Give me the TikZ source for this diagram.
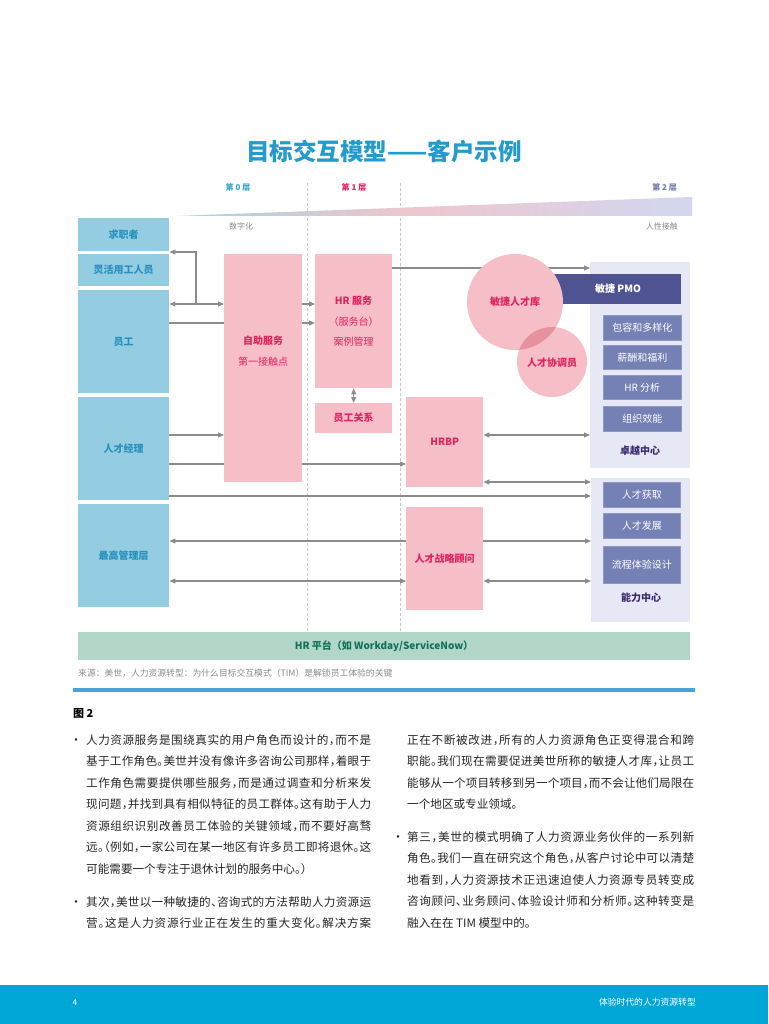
\documentclass[tikz,border=0pt]{standalone}
\usepackage{fontspec}
\setmainfont{Noto Sans CJK SC}
\newfontfamily\bodyfont[RawFeature=+halt]{Noto Sans CJK SC}
\usetikzlibrary{arrows.meta}
\definecolor{titleblue}{HTML}{239BCB}
\definecolor{lzero}{HTML}{3AA5C8}
\definecolor{lone}{HTML}{E0245E}
\definecolor{ltwo}{HTML}{7079B3}
\definecolor{smallgray}{HTML}{8C8C8C}
\definecolor{dashgray}{HTML}{C8C8C8}
\definecolor{lbfill}{HTML}{94CDE1}
\definecolor{lbtext}{HTML}{2990BE}
\definecolor{pkfill}{HTML}{F6BEC6}
\definecolor{pktext}{HTML}{E0245E}
\definecolor{overlap}{HTML}{E6919E}
\definecolor{panel}{HTML}{E6E8F5}
\definecolor{pmofill}{HTML}{505392}
\definecolor{subfill}{HTML}{7580B5}
\definecolor{subedge}{HTML}{8E97C6}
\definecolor{purpletext}{HTML}{3C2A6E}
\definecolor{platfill}{HTML}{B2D6C8}
\definecolor{plattext}{HTML}{12705C}
\definecolor{arrgray}{HTML}{8C8C8C}
\definecolor{rule}{HTML}{4BA3DB}
\definecolor{bodytext}{HTML}{262626}
\definecolor{footblue}{HTML}{00A6D6}
\definecolor{wedgeL}{HTML}{A3D4DF}
\definecolor{wedgeM}{HTML}{EEC6CE}
\definecolor{wedgeR}{HTML}{D2D7EF}
\pgfdeclarehorizontalshading{wedgesh}{100bp}{color(0bp)=(wedgeL); color(25bp)=(wedgeL); color(47bp)=(wedgeM); color(75bp)=(wedgeR); color(100bp)=(wedgeR)}
\pgfdeclarelayer{bg}
\pgfsetlayers{bg,main}
\makeatletter
\let\sp@end\relax
\def\sp@first#1{#1\sp@next}
\def\sp@next#1{\ifx#1\sp@end\else\hskip 0pt plus 3pt\relax #1\expandafter\sp@next\fi}
\newcommand\jlL[1]{\makebox[285pt][s]{\sp@first#1\sp@end}}
\newcommand\jlR[1]{\makebox[287pt][s]{\sp@first#1\sp@end}}
\makeatother
\begin{document}
\begin{tikzpicture}[x=1pt,y=-1pt,
  lbox/.style={fill=lbfill, draw=none, inner sep=0, anchor=north west, font=\bfseries\fontsize{10}{12}\selectfont, text=lbtext},
  pbox/.style={fill=pkfill, draw=none, inner sep=0, anchor=north west, font=\bfseries\fontsize{10}{12}\selectfont, text=pktext},
  ptext/.style={inner sep=0, font=\bfseries\fontsize{10}{12}\selectfont, text=pktext},
  psub/.style={inner sep=0, font=\fontsize{10}{12}\selectfont, text=pktext},
  pcirc/.style={circle, fill=pkfill, draw=none, inner sep=0},
  panelbox/.style={fill=panel, draw=none, inner sep=0, anchor=north west},
  subbox/.style={fill=subfill, draw=subedge, line width=0.6pt, inner sep=0, anchor=north west, font=\fontsize{10}{12}\selectfont, text=white},
  ptitle/.style={inner sep=0, font=\bfseries\fontsize{10}{12}\selectfont, text=purpletext},
  layerlbl/.style={inner sep=0, font=\bfseries\fontsize{8}{10}\selectfont},
  graytxt/.style={inner sep=0, font=\fontsize{8}{10}\selectfont, text=smallgray},
  dashline/.style={draw=dashgray, line width=0.8pt, dash pattern=on 3pt off 2pt},
  arr/.style={draw=arrgray, line width=1.1pt, -{Triangle[length=6pt,width=5pt]}},
  darr/.style={draw=arrgray, line width=1.1pt, {Triangle[length=6pt,width=5pt]}-{Triangle[length=6pt,width=5pt]}},
  bodyline/.style={inner sep=0, anchor=west, font=\bodyfont\fontsize{11.6}{13}\selectfont, text=bodytext},
  bullet/.style={inner sep=0, font=\fontsize{12}{12}\selectfont, text=bodytext}
]
\useasboundingbox (0,0) rectangle (768,1024);

% background: page and dashed lines
\begin{pgfonlayer}{bg}
\fill[white] (0,0) rectangle (768,1024);
\draw[dashline] (307,183) -- (307,632);
\draw[dashline] (400,183) -- (400,632);
\end{pgfonlayer}

% title
\node[inner sep=0, font=\bfseries\fontsize{23.5}{26}\selectfont, text=titleblue] (title) at (384,152) {目标交互模型——客户示例};

% layer labels
\node[layerlbl, text=lzero] (l0) at (238,187) {第 0 层};
\node[layerlbl, text=lone] (l1) at (354,187) {第 1 层};
\node[layerlbl, text=ltwo, anchor=east] (l2) at (677,187) {第 2 层};

% wedge
\shade[shading=wedgesh] (176,216) -- (692,197) -- (692,216) -- cycle;
\node[graytxt] (dig) at (241,226) {数字化};
\node[graytxt, anchor=east] (hum) at (678,226) {人性接触};

% left boxes
\node[lbox, minimum width=91pt, minimum height=33pt] (qz) at (78,218) {求职者};
\node[lbox, minimum width=91pt, minimum height=32pt] (lh) at (78,254) {灵活用工人员};
\node[lbox, minimum width=91pt, minimum height=103pt] (yg) at (78,290) {员工};
\node[lbox, minimum width=91pt, minimum height=103pt] (tm) at (78,397) {人才经理};
\node[lbox, minimum width=91pt, minimum height=103pt] (sm) at (78,504) {最高管理层};

% pink boxes
\node[pbox, minimum width=78pt, minimum height=228pt] (zz) at (224,254) {};
\node[ptext] (zzt) at (263,341) {自助服务};
\node[psub] (zzs) at (263,362) {第一接触点};
\node[pbox, minimum width=77pt, minimum height=134pt] (hrs) at (315,254) {};
\node[ptext] (hrs1) at (353.5,301) {HR 服务};
\node[psub] (hrs2) at (353.5,322) {（服务台）};
\node[psub] (hrs3) at (353.5,342) {案例管理};
\node[pbox, minimum width=77pt, minimum height=30pt] (er) at (315,403) {员工关系};
\node[pbox, minimum width=77pt, minimum height=90pt] (hrbp) at (406,397) {HRBP};
\node[pbox, minimum width=77pt, minimum height=103pt] (tsa) at (406,507) {人才战略顾问};

% right panels
\node[panelbox, minimum width=100pt, minimum height=206pt] (coe) at (590,262) {};
\node[fill=pmofill, inner sep=0, anchor=north west, minimum width=128pt, minimum height=30pt] (pmo) at (553,274) {};
\node[inner sep=0, font=\bfseries\fontsize{10}{12}\selectfont, text=white] (pmot) at (618,289) {敏捷 PMO};
\node[subbox, minimum width=78pt, minimum height=25pt] (s1) at (603,315) {包容和多样化};
\node[subbox, minimum width=78pt, minimum height=24pt] (s2) at (603,345) {薪酬和福利};
\node[subbox, minimum width=78pt, minimum height=24pt] (s3) at (603,375) {HR 分析};
\node[subbox, minimum width=78pt, minimum height=25pt] (s4) at (603,406) {组织效能};
\node[ptitle] (coet) at (640,451) {卓越中心};

\node[panelbox, minimum width=99pt, minimum height=144pt] (coc) at (591,478) {};
\node[subbox, minimum width=77pt, minimum height=25pt] (c1) at (603,482) {人才获取};
\node[subbox, minimum width=77pt, minimum height=25pt] (c2) at (603,513) {人才发展};
\node[subbox, minimum width=77pt, minimum height=37pt] (c3) at (603,546) {流程体验设计};
\node[ptitle] (coct) at (641,598) {能力中心};

% circles
\node[pcirc, minimum size=96pt] (tp) at (515,302) {};
\node[pcirc, minimum size=70pt] (tc) at (552,362) {};
\begin{scope}
  \clip (515,302) circle (48pt);
  \fill[overlap] (552,362) circle (35pt);
\end{scope}
\node[ptext] (tpt) at (515,302) {敏捷人才库};
\node[ptext] (tct) at (552,363) {人才协调员};

% platform
\node[fill=platfill, inner sep=0, anchor=north west, minimum width=612pt, minimum height=28pt] (plat) at (78,632) {};
\node[inner sep=0, font=\bfseries\fontsize{10}{12}\selectfont, text=plattext] (platt) at (384,646) {HR 平台（如 Workday/ServiceNow）};

% source + rule
\node[inner sep=0, anchor=west, font=\fontsize{8.8}{10}\selectfont, text=smallgray] (src) at (78,673) {来源：美世，人力资源转型：为什么目标交互模式（TIM）是解锁员工体验的关键};
\draw[rule, line width=3.5pt] (73,690) -- (695,690);

% connectors (behind the boxes)
\begin{pgfonlayer}{bg}
\coordinate (j1) at (196,304);
\draw[darr] (yg.east |- 0,304) -- (zz.west |- 0,304);
\draw[arr] (j1) |- (qz.east |- 0,252);
\draw[arr] (zz.east |- 0,304) -- (hrs.west |- 0,304);
\draw[arr] (yg.east |- 0,323) -- (hrs.west |- 0,323);
\draw[arr] (hrs.east |- 0,268) -- (coe.west |- 0,268);
\draw[darr] (hrs.south) -- (er.north);
\draw[arr] (tm.east |- 0,435) -- (zz.west |- 0,435);
\draw[arr] (tm.east |- 0,464) -- (hrbp.west |- 0,464);
\draw[arr] (tm.east |- 0,496) -- (coc.west |- 0,496);
\draw[darr] (hrbp.east |- 0,435) -- (coe.west |- 0,435);
\draw[darr] (hrbp.east |- 0,482) -- (coc.west |- 0,482);
\draw[darr] (sm.east |- 0,541) -- (coc.west |- 0,541);
\draw[darr] (sm.east |- 0,581) -- (tsa.west |- 0,581);
\draw[darr] (tsa.east |- 0,581) -- (coc.west |- 0,581);
\end{pgfonlayer}

% figure label
\node[inner sep=0, anchor=west, font=\bfseries\fontsize{11}{13}\selectfont, text=black] (fig) at (73,714) {图 2};

% left column
\node[bullet] (b1) at (76,742) {•};
\node[bodyline] (a1) at (86,740) {\jlL{人力资源服务是围绕真实的用户角色而设计的，而不是}};
\node[bodyline] (a2) at (86,761.5) {\jlL{基于工作角色。美世并没有像许多咨询公司那样，着眼于}};
\node[bodyline] (a3) at (86,783) {\jlL{工作角色需要提供哪些服务，而是通过调查和分析来发}};
\node[bodyline] (a4) at (86,804.5) {\jlL{现问题，并找到具有相似特征的员工群体。这有助于人力}};
\node[bodyline] (a5) at (86,826) {\jlL{资源组织识别改善员工体验的关键领域，而不要好高骛}};
\node[bodyline] (a6) at (86,847.5) {\jlL{远。（例如，一家公司在某一地区有许多员工即将退休。这}};
\node[bodyline] (a7) at (86,869) {可能需要一个专注于退休计划的服务中心。）};
\node[bullet] (b2) at (76,904) {•};
\node[bodyline] (a8) at (86,902) {\jlL{其次，美世以一种敏捷的、咨询式的方法帮助人力资源运}};
\node[bodyline] (a9) at (86,923.5) {\jlL{营。这是人力资源行业正在发生的重大变化。解决方案}};

% right column
\node[bodyline] (r1) at (407,740) {\jlR{正在不断被改进，所有的人力资源角色正变得混合和跨}};
\node[bodyline] (r2) at (407,761.5) {\jlR{职能。我们现在需要促进美世所称的敏捷人才库，让员工}};
\node[bodyline] (r3) at (407,783) {\jlR{能够从一个项目转移到另一个项目，而不会让他们局限在}};
\node[bodyline] (r4) at (407,804.5) {一个地区或专业领域。};
\node[bullet] (b3) at (398,839) {•};
\node[bodyline] (r5) at (407,837) {\jlR{第三，美世的模式明确了人力资源业务伙伴的一系列新}};
\node[bodyline] (r6) at (407,858.5) {\jlR{角色。我们一直在研究这个角色，从客户讨论中可以清楚}};
\node[bodyline] (r7) at (407,880) {\jlR{地看到，人力资源技术正迅速迫使人力资源专员转变成}};
\node[bodyline] (r8) at (407,901.5) {\jlR{咨询顾问、业务顾问、体验设计师和分析师。这种转变是}};
\node[bodyline] (r9) at (407,923) {融入在在 TIM 模型中的。};

% footer
\fill[footblue] (0,985) rectangle (768,1024);
\node[inner sep=0, font=\fontsize{8.5}{10}\selectfont, text=white] (pg) at (75,1002) {4};
\node[inner sep=0, anchor=east, font=\fontsize{8.8}{10}\selectfont, text=white] (ft) at (696,1002) {体验时代的人力资源转型};
\end{tikzpicture}
\end{document}
